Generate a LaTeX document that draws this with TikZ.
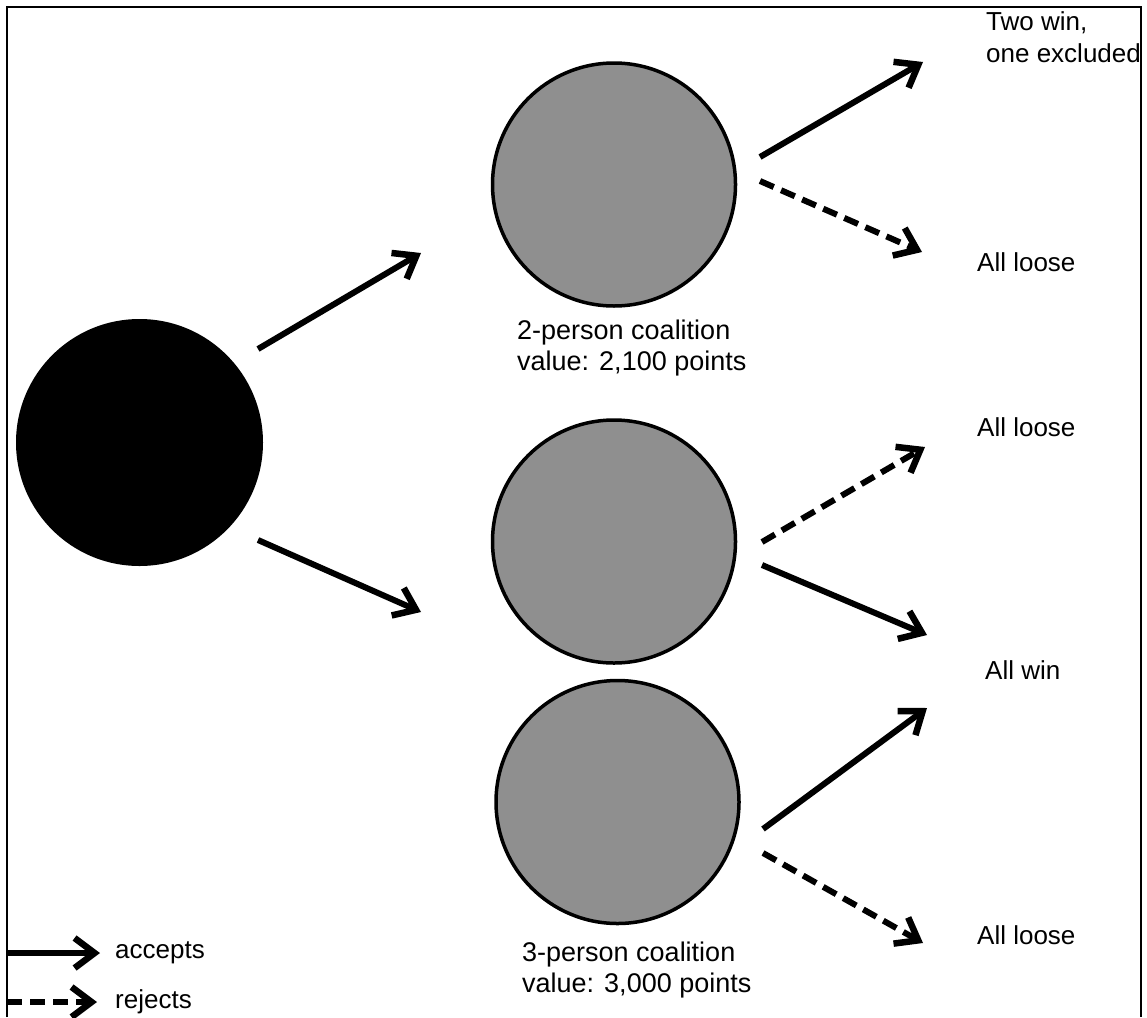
\documentclass[tikz,border=0pt]{standalone}
\usepackage{fontspec}
\setmainfont{Liberation Sans}
\usetikzlibrary{arrows.meta}
\definecolor{nodegray}{RGB}{143,143,143}
\begin{document}
\begin{tikzpicture}[x=1pt,y=-1pt,
  frameline/.style={line width=2pt},
  accept/.style={line width=6pt,-{Straight Barb[length=20pt,width=30pt,line width=6.5pt]}},
  reject/.style={accept,dash pattern=on 15pt off 8pt},
  coal/.style={circle,draw,line width=3.5pt,fill=nodegray,minimum size=243pt,inner sep=0pt},
  rootnode/.style={circle,fill=black,minimum size=247pt,inner sep=0pt},
  lbl/.style={font=\fontsize{27pt}{31pt}\selectfont,align=left,anchor=west,inner sep=0pt},
  outc/.style={font=\fontsize{26pt}{32pt}\selectfont,align=left,anchor=west,inner sep=0pt}]
\useasboundingbox (0,0) rectangle (1147,1017);
\clip (0,0) rectangle (1147,1017);
\draw[frameline] (7,1017) -- (7,7) -- (1141,7) -- (1141,1017);

% circles
\node[rootnode] (root) at (139.5,442.5) {};
\node[coal] (c2) at (614,184.5) {};
\node[coal] (c3a) at (614,541.5) {};
\node[coal] (c3b) at (617.5,802) {};

% coalition labels
\node[lbl] (l2) at (517,348) {2-person coalition\\value: 2,100 points};
\node[lbl] (l3) at (522,970) {3-person coalition\\value: 3,000 points};

% outcomes
\node[outc] (o1) at (986,37) {Two win,\\one excluded};
\node[outc] (o2) at (977,262) {All loose};
\node[outc] (o3) at (977,427) {All loose};
\node[outc] (o4) at (985,670) {All win};
\node[outc] (o5) at (977,935) {All loose};

% legend
\node[outc] (la) at (115,953) {accepts};
\node[outc] (lr) at (115,1002) {rejects};

% arrow end points
\coordinate (a1s) at (258,349);  \coordinate (a1e) at (421,253);
\coordinate (a2s) at (258,540);  \coordinate (a2e) at (421,612);
\coordinate (b1s) at (760,157);  \coordinate (b1e) at (923,62);
\coordinate (b2s) at (760,181);  \coordinate (b2e) at (922,252);
\coordinate (c1s) at (762,542);  \coordinate (c1e) at (925,447);
\coordinate (c2s) at (762,565);  \coordinate (c2e) at (927,635);
\coordinate (d1s) at (763,829);  \coordinate (d1e) at (927,708);
\coordinate (d2s) at (763,853);  \coordinate (d2e) at (923,943);
\coordinate (las) at (7,953);    \coordinate (lae) at (100,953);
\coordinate (lrs) at (7,1002);   \coordinate (lre) at (97,1002);

\draw[accept] (a1s) -- (a1e);
\draw[accept] (a2s) -- (a2e);
\draw[accept] (b1s) -- (b1e);
\draw[reject] (b2s) -- (b2e);
\draw[reject] (c1s) -- (c1e);
\draw[accept] (c2s) -- (c2e);
\draw[accept] (d1s) -- (d1e);
\draw[reject] (d2s) -- (d2e);
\draw[accept] (las) -- (lae);
\draw[reject] (lrs) -- (lre);
\end{tikzpicture}
\end{document}
